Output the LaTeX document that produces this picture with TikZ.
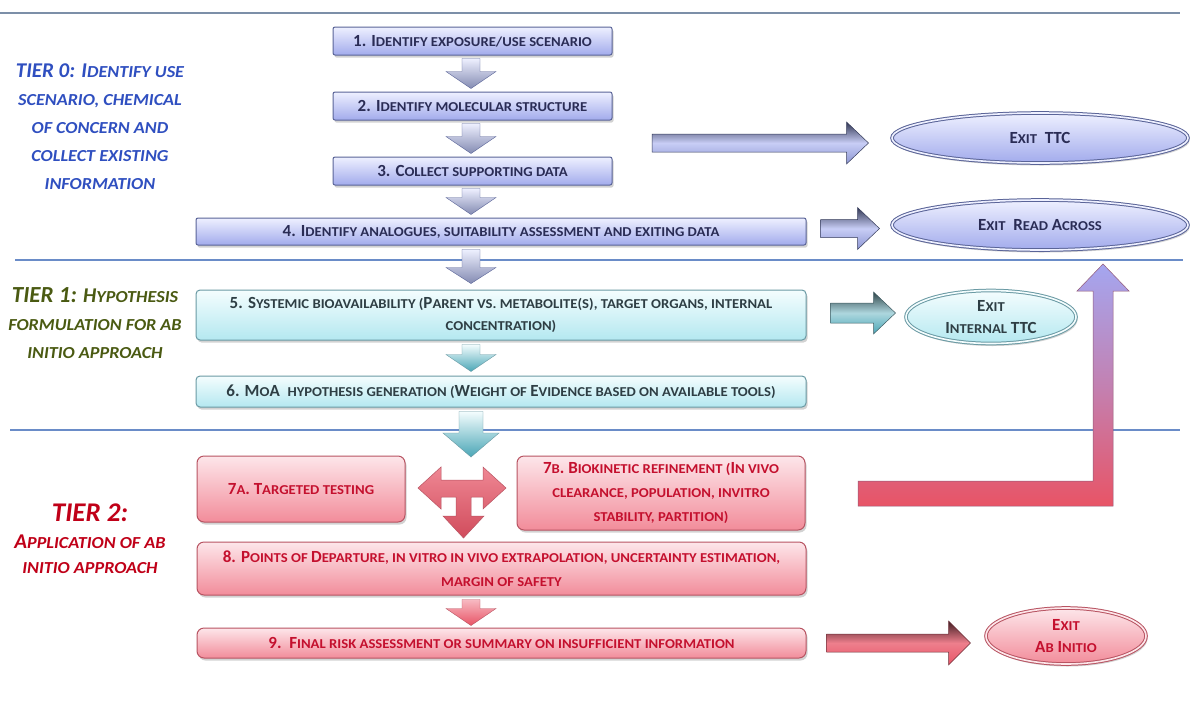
\documentclass[tikz,border=0pt]{standalone}
\usepackage{fontspec}
\setmainfont{Carlito}
\newfontfamily\smcfont[Scale=0.80,FakeStretch=1.08]{Carlito}
\newcommand\s[1]{{\smcfont #1}}
\usetikzlibrary{shapes.geometric,shadows,calc}
\definecolor{blueT}{HTML}{EEF0FF}
\definecolor{blueB}{HTML}{A2ABEC}
\definecolor{blueedge}{HTML}{5A6498}
\definecolor{bluetext}{HTML}{2A2C55}
\definecolor{cyanT}{HTML}{F4FDFE}
\definecolor{cyanB}{HTML}{B4E8F0}
\definecolor{cyanedge}{HTML}{6A9AA4}
\definecolor{cyantext}{HTML}{2E3E44}
\definecolor{redT}{HTML}{FDE6EA}
\definecolor{redB}{HTML}{F28C9A}
\definecolor{rededge}{HTML}{B85462}
\definecolor{redtext}{HTML}{C4102E}
\definecolor{tierA}{HTML}{2F4FC0}
\definecolor{tierB}{HTML}{4A5A12}
\definecolor{tierC}{HTML}{C00018}
\definecolor{lineA}{HTML}{7C8FA8}
\definecolor{lineB}{HTML}{6A8CC8}
\definecolor{arrowred}{HTML}{E85466}
\definecolor{arrowteal}{HTML}{4AA6B6}
\definecolor{arrowlav}{HTML}{A4A6F0}
% horizontal block arrow: style, from, to, half shaft, half head, head length
\newcommand\harrow[6]{\path[#1] let \p1=(#2), \p2=(#3) in
  (\x1,\y1+#4) -- (\x2-#6,\y1+#4) -- (\x2-#6,\y1+#5) -- (\x2,\y1) --
  (\x2-#6,\y1-#5) -- (\x2-#6,\y1-#4) -- (\x1,\y1-#4) -- cycle;}
% vertical (downward) block arrow
\newcommand\varrow[6]{\path[#1] let \p1=(#2), \p2=(#3) in
  (\x1-#4,\y1) -- (\x1+#4,\y1) -- (\x1+#4,\y2+#6) -- (\x1+#5,\y2+#6) --
  (\x1,\y2) -- (\x1-#5,\y2+#6) -- (\x1-#4,\y2+#6) -- cycle;}
\begin{document}
\begin{tikzpicture}[x=1pt,y=-1pt,
  boxfont/.style={font=\bfseries\fontsize{17}{23}\selectfont},
  shadowed/.style={drop shadow={shadow xshift=1.5pt,shadow yshift=-2.5pt,opacity=.35}},
  bluebox/.style={rectangle,rounded corners=2pt,draw=blueedge,line width=1pt,
    top color=blueT,bottom color=blueB,shadowed,boxfont,text=bluetext,inner sep=2pt,align=center},
  cyanbox/.style={rectangle,rounded corners=4pt,draw=cyanedge,line width=1pt,
    top color=cyanT,bottom color=cyanB,shadowed,boxfont,text=cyantext,inner sep=2pt,align=center},
  redbox/.style={rectangle,rounded corners=7pt,draw=rededge,line width=1pt,
    top color=redT,bottom color=redB,shadowed,boxfont,text=redtext,inner sep=2pt,align=center},
  exitbase/.style={ellipse,line width=1pt,double distance=1.6pt,shadowed,boxfont,inner sep=0pt,align=center},
  blueexit/.style={exitbase,draw=blueedge,double=blueT,top color=blueT,bottom color=blueB,text=bluetext},
  cyanexit/.style={exitbase,draw=cyanedge,double=cyanT,top color=cyanT,bottom color=cyanB,text=cyantext},
  redexit/.style={exitbase,draw=rededge,double=redT,top color=redT,bottom color=redB,text=redtext},
  tierlabel/.style={align=center,font=\bfseries\itshape\fontsize{21}{28}\selectfont},
  sepline/.style={line width=1.6pt},
  bluedown/.style={top color=blueT,bottom color=blueedge!75,draw=blueedge,line width=.4pt},
  cyandown/.style={top color=cyanT,bottom color=arrowteal,draw=cyanedge,line width=.4pt},
  reddown/.style={top color=redB!60!white,bottom color=arrowred,draw=rededge,line width=.4pt},
  blueright/.style={top color=blueedge!55!black,bottom color=blueB!70!blueedge,middle color=blueT!50!blueB,draw=blueedge!60!black,line width=.5pt},
  cyanright/.style={top color=cyanedge!45!black,bottom color=arrowteal,middle color=arrowteal!45!white,draw=cyanedge!60!black,line width=.5pt},
  redright/.style={top color=rededge!35!black,bottom color=arrowred,middle color=arrowred!75!white,draw=rededge!60!black,line width=.5pt},
]
\useasboundingbox[fill=white] (0,0) rectangle (1192,702);

% separator lines
\draw[sepline,lineA] (0,13) -- (1180,13);
\draw[sepline,lineB] (15,260) -- (1183,260);
\draw[sepline,lineB] (10,430) -- (1180,430);

% tier labels
\node[tierlabel,text=tierA] (t0) at (100,127)
  {TIER 0: I\s{DENTIFY USE}\\ \s{SCENARIO, CHEMICAL}\\ \s{OF CONCERN AND}\\ \s{COLLECT EXISTING}\\ \s{INFORMATION}};
\node[tierlabel,text=tierB] (t1) at (95,323)
  {{\fontsize{23}{28}\selectfont TIER 1:} H\s{YPOTHESIS}\\ \s{FORMULATION FOR AB}\\ \s{INITIO APPROACH}};
\node[tierlabel,text=tierC,font=\bfseries\itshape\fontsize{21}{25}\selectfont] (t2) at (90,539)
  {{\fontsize{27}{30}\selectfont TIER 2:}\\[2pt] A\s{PPLICATION OF AB}\\ \s{INITIO APPROACH}};

% tier 0 boxes
\node[bluebox,minimum width=279pt,minimum height=28pt] (b1) at (472.5,41) {1. I\s{DENTIFY EXPOSURE/USE SCENARIO}};
\node[bluebox,minimum width=279pt,minimum height=28pt] (b2) at (472.5,106) {2. I\s{DENTIFY MOLECULAR STRUCTURE}};
\node[bluebox,minimum width=279pt,minimum height=28pt] (b3) at (472.5,171) {3. C\s{OLLECT SUPPORTING DATA}};
\node[bluebox,minimum width=610pt,minimum height=27pt] (b4) at (501,231.5) {4. I\s{DENTIFY ANALOGUES, SUITABILITY ASSESSMENT AND EXITING DATA}};

% tier 1 boxes
\node[cyanbox,minimum width=610pt,minimum height=50pt,font=\bfseries\fontsize{17}{22}\selectfont] (b5) at (501,315)
  {5. S\s{YSTEMIC BIOAVAILABILITY (}P\s{ARENT VS. METABOLITE(S), TARGET ORGANS, INTERNAL}\\ \s{CONCENTRATION)}};
\node[cyanbox,minimum width=610pt,minimum height=31pt] (b6) at (501,391.5)
  {6. M\s{O}A\ \ \s{HYPOTHESIS GENERATION (}W\s{EIGHT OF }E\s{VIDENCE BASED ON AVAILABLE TOOLS)}};

% tier 2 boxes
\node[redbox,minimum width=208pt,minimum height=66pt] (b7a) at (301,489) {7\s{A}. T\s{ARGETED TESTING}};
\node[redbox,minimum width=288pt,minimum height=74pt,font=\bfseries\fontsize{17}{24}\selectfont] (b7b) at (661,493)
  {7\s{B}. B\s{IOKINETIC REFINEMENT (}I\s{N VIVO}\\ \s{CLEARANCE, POPULATION, INVITRO}\\ \s{STABILITY, PARTITION)}};
\node[redbox,minimum width=609pt,minimum height=53pt,font=\bfseries\fontsize{17}{24}\selectfont] (b8) at (501.5,568.5)
  {8. P\s{OINTS OF }D\s{EPARTURE, IN VITRO IN VIVO EXTRAPOLATION, UNCERTAINTY ESTIMATION,}\\ \s{MARGIN OF SAFETY}};
\node[redbox,minimum width=609pt,minimum height=30pt] (b9) at (501.5,643)
  {9.\ \ F\s{INAL RISK ASSESSMENT OR SUMMARY ON INSUFFICIENT INFORMATION}};

% exits
\node[blueexit,minimum width=296pt,minimum height=50pt] (e1) at (1040,138) {E\s{XIT}\ \ TTC};
\node[blueexit,minimum width=296pt,minimum height=50pt] (e2) at (1040,225) {E\s{XIT}\ \ R\s{EAD} A\s{CROSS}};
\node[cyanexit,minimum width=170pt,minimum height=53pt,font=\bfseries\fontsize{17}{22}\selectfont] (e3) at (991,317) {E\s{XIT}\\ I\s{NTERNAL} TTC};
\node[redexit,minimum width=160pt,minimum height=56pt,font=\bfseries\fontsize{17}{22}\selectfont] (e4) at (1066,636) {E\s{XIT}\\ A\s{B} I\s{NITIO}};

% down arrows
\varrow{bluedown}{$(b1.south)+(-1.5,3)$}{$(b2.north)+(-1.5,-3)$}{9pt}{25pt}{17pt}
\varrow{bluedown}{$(b2.south)+(-1.5,3)$}{$(b3.north)+(-1.5,-3)$}{9pt}{25pt}{17pt}
\varrow{bluedown}{$(b3.south)+(-1.5,3)$}{$(b4.north)+(-30,-3)$}{9pt}{25pt}{17pt}
\varrow{bluedown}{$(b4.south)+(-30,4)$}{$(b5.north)+(-30,-6)$}{9pt}{25pt}{16pt}
\varrow{cyandown}{$(b5.south)+(-30,4)$}{$(b6.north)+(-30,-4)$}{9pt}{25pt}{17pt}
\coordinate (c67) at (471,457);
\varrow{cyandown}{$(b6.south)+(-30,4)$}{c67}{12pt}{28pt}{24pt}
\varrow{reddown}{$(b8.south)+(-30.5,4)$}{$(b9.north)+(-30.5,-2)$}{9pt}{25pt}{17pt}

% T arrow between 7a / 7b and down to 8
\path[top color=arrowred!70!white,bottom color=arrowred!90!black,draw=rededge,line width=.5pt]
  (418,488) -- (441,467) -- (441,480) -- (483,480) -- (483,467) -- (506,488)
  -- (483,509) -- (483,497) -- (471,497) -- (471,516) -- (484,516) -- (463.5,538)
  -- (443,516) -- (456,516) -- (456,497) -- (441,497) -- (441,509) -- cycle;

% right arrows to exits
\coordinate (ttcstart) at (652,143);
\harrow{blueright}{ttcstart}{$(e1.west)+(-23,0)$}{9pt}{21pt}{22pt}
\harrow{blueright}{$(b4.east)+(14,-3)$}{$(e2.west)+(-12,0)$}{9pt}{21pt}{22pt}
\harrow{cyanright}{$(b5.east)+(24,-2)$}{$(e3.west)+(-10,0)$}{10pt}{21pt}{22pt}
\harrow{redright}{$(b9.east)+(20,0)$}{$(e4.west)+(-15,0)$}{9pt}{22pt}{22pt}

% big L arrow back up towards tier line
\path[top color=arrowlav,bottom color=arrowred,middle color=arrowred!45!arrowlav,draw=rededge!60!blueedge,line width=.5pt]
  (858,481) -- (1093,481) -- (1093,291) -- (1077,291) -- (1103,264) -- (1129,291)
  -- (1113,291) -- (1113,506) -- (858,506) -- cycle;
\end{tikzpicture}
\end{document}
